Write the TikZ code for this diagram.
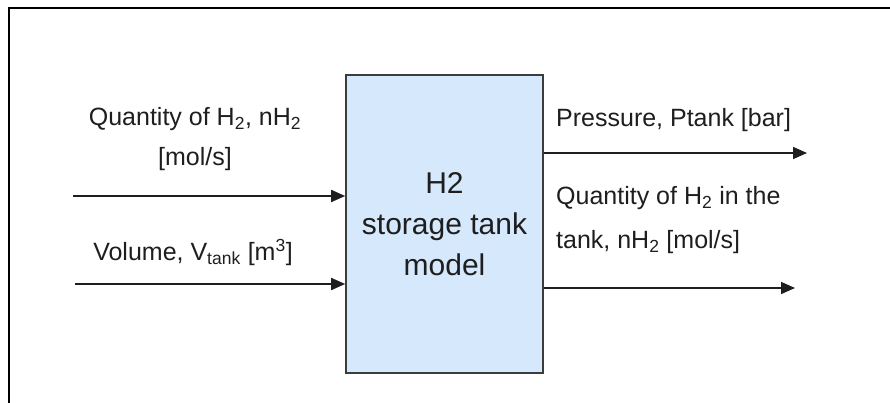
\documentclass[tikz,border=0pt]{standalone}
\usepackage{fontspec}
\setmainfont{Liberation Sans}
\usetikzlibrary{arrows.meta,positioning}
\definecolor{Ink}{HTML}{1E1E1E}
\definecolor{Tank}{HTML}{D6E8FC}
\definecolor{Edge}{HTML}{3C3C3C}

\begin{document}
\begin{tikzpicture}[x=1pt,y=-1pt,
    block/.style={draw=Edge,line width=1.6pt,fill=Tank,minimum width=197pt,
      minimum height=298pt,align=center,inner sep=0pt,text=Ink,
      font=\fontsize{30}{41}\selectfont},
    lbl/.style={inner sep=0pt,text=Ink,font=\fontsize{25}{40}\selectfont},
    arr/.style={-{Triangle[length=14pt,width=12pt]},line width=1.6pt,Ink}
  ]
    \useasboundingbox (0,0) rectangle (890,403);
    \draw[line width=2.5pt] (9,403) -- (9,8) -- (890,8);
    \node[block] (model) at (444.5,224) {H2\\storage tank\\model};
    % inputs
    \node[lbl,align=center] (qtyIn) at (195,139) {Quantity of H\textsubscript{2}, nH\textsubscript{2}\\{}[mol/s]};
    \node[lbl] (volIn) at (193,252) {Volume, V\textsubscript{tank} [m\textsuperscript{3}]};
    % outputs
    \node[lbl,anchor=west] (pOut) at (556,120) {Pressure, Ptank [bar]};
    \node[lbl,anchor=west,align=left,font=\fontsize{25}{44}\selectfont] (qtyOut) at (556,220)
      {Quantity of H\textsubscript{2} in the\\tank, nH\textsubscript{2} [mol/s]};
    \coordinate (in1) at (73,196);
    \coordinate (in2) at (75,284);
    \coordinate (out1) at (807,153);
    \coordinate (out2) at (795,288);
    \foreach \c in {in1,in2}\draw[arr] (\c) -- (model.west |- \c);
    \foreach \c in {out1,out2}\draw[arr] (model.east |- \c) -- (\c);
  \end{tikzpicture}
\end{document}
